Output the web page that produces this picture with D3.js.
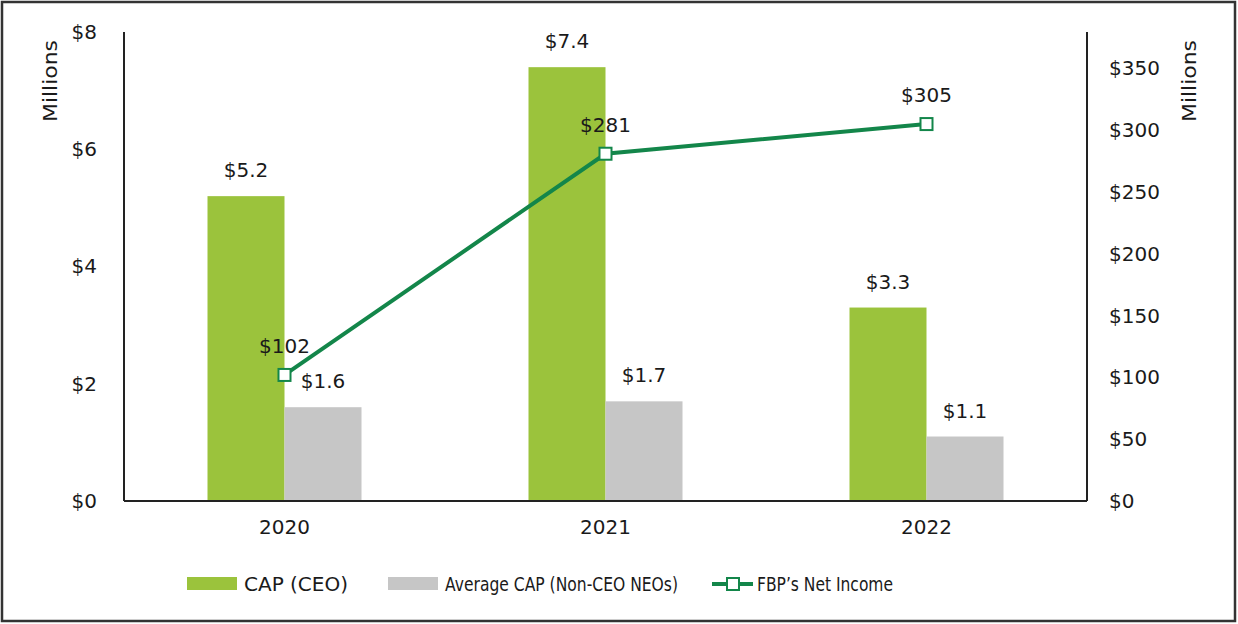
<!DOCTYPE html>
<html>
<head>
<meta charset="utf-8">
<script src="https://cdn.jsdelivr.net/npm/d3@7"></script>
<style>
  body { margin: 0; background: #fff; }
  svg text { font-family: "DejaVu Sans", sans-serif; fill: #1a1a1a; }
</style>
</head>
<body>
<div class="plot"></div>
<script>
// chart data
let years = ["2020", "2021", "2022"]
let capCeo = [5.2, 7.4, 3.3]
let capNeo = [1.6, 1.7, 1.1]
let netIncome = [102, 281, 305]
let leftTicks = [0, 2, 4, 6, 8]
let rightTicks = [0, 50, 100, 150, 200, 250, 300, 350]
let legendNames = ["CAP (CEO)", "Average CAP (Non-CEO NEOs)", "FBP\u2019s Net Income"]

let W = 1238, H = 624
let margin = {top: 32, right: 151, bottom: 123, left: 124}
let width = W - margin.left - margin.right,
    height = H - margin.top - margin.bottom
let fs = "20px"

let green = "#9bc33c", gray = "#c6c6c6", lineGreen = "#13864a"

let svg = d3.select(".plot").append("svg")
    .attr("width", W)
    .attr("height", H)

// outer frame
svg.append("rect")
    .attr("x", 2).attr("y", 2)
    .attr("width", W - 5).attr("height", H - 5)
    .attr("fill", "none")
    .attr("stroke", "#333")
    .attr("stroke-width", 2.5)

let g = svg.append("g")
    .attr("transform", "translate(" + margin.left + "," + margin.top + ")")

let x0 = d3.scaleBand().domain(years).range([0, width])
let x1 = d3.scaleBand().domain(["ceo", "neo"]).range([x0.bandwidth() / 2 - 77, x0.bandwidth() / 2 + 77])
let yL = d3.scaleLinear().domain([0, 8]).range([height, 0])
let yR = d3.scaleLinear().domain([0, 379.5]).range([height, 0])

// bars
let groups = g.selectAll(".year")
    .data(years)
    .enter().append("g")
    .attr("class", "year")
    .attr("transform", function(d) { return "translate(" + x0(d) + ",0)" })

groups.append("rect")
    .attr("x", x1("ceo"))
    .attr("width", x1.bandwidth())
    .attr("y", function(d, i) { return yL(capCeo[i]) })
    .attr("height", function(d, i) { return height - yL(capCeo[i]) })
    .attr("fill", green)

groups.append("rect")
    .attr("x", x1("neo"))
    .attr("width", x1.bandwidth())
    .attr("y", function(d, i) { return yL(capNeo[i]) })
    .attr("height", function(d, i) { return height - yL(capNeo[i]) })
    .attr("fill", gray)

groups.append("text")
    .attr("x", x1("ceo") + x1.bandwidth() / 2)
    .attr("y", function(d, i) { return yL(capCeo[i]) - 19 })
    .attr("text-anchor", "middle")
    .style("font-size", fs)
    .text(function(d, i) { return "$" + capCeo[i].toFixed(1) })

groups.append("text")
    .attr("x", x1("neo") + x1.bandwidth() / 2)
    .attr("y", function(d, i) { return yL(capNeo[i]) - 19 })
    .attr("text-anchor", "middle")
    .style("font-size", fs)
    .text(function(d, i) { return "$" + capNeo[i].toFixed(1) })

// axes lines
let axisColor = "#222"
g.append("line").attr("x1", 0).attr("x2", 0).attr("y1", 0).attr("y2", height)
    .attr("stroke", axisColor).attr("stroke-width", 2)
g.append("line").attr("x1", width).attr("x2", width).attr("y1", 0).attr("y2", height)
    .attr("stroke", axisColor).attr("stroke-width", 2)
g.append("line").attr("x1", 0).attr("x2", width).attr("y1", height).attr("y2", height)
    .attr("stroke", axisColor).attr("stroke-width", 2)

let yAxisL = d3.axisLeft(yL).tickValues(leftTicks).tickSize(0).tickPadding(27)
    .tickFormat(function(d) { return "$" + d })
let yAxisR = d3.axisRight(yR).tickValues(rightTicks).tickSize(0).tickPadding(22)
    .tickFormat(function(d) { return "$" + d })
let xAxis = d3.axisBottom(x0).tickSize(0).tickPadding(19)

function styleAxis(sel) {
  sel.select(".domain").remove()
  sel.selectAll("text").style("font-size", fs).attr("fill", "#1a1a1a")
    .style("font-family", "'DejaVu Sans', sans-serif")
}

g.append("g").call(yAxisL).call(styleAxis)
g.append("g").attr("transform", "translate(" + width + ",0)").call(yAxisR).call(styleAxis)
g.append("g").attr("transform", "translate(0," + height + ")").call(xAxis).call(styleAxis)

// axis titles
svg.append("text")
    .attr("transform", "translate(57,81) rotate(-90)")
    .attr("text-anchor", "middle")
    .attr("textLength", 82)
    .attr("lengthAdjust", "spacingAndGlyphs")
    .style("font-size", "19px")
    .text("Millions")
svg.append("text")
    .attr("transform", "translate(1196,81) rotate(-90)")
    .attr("text-anchor", "middle")
    .attr("textLength", 82)
    .attr("lengthAdjust", "spacingAndGlyphs")
    .style("font-size", "19px")
    .text("Millions")

// net income line
let cx = function(i) { return x0(years[i]) + x0.bandwidth() / 2 }
let line = d3.line()
    .x(function(d, i) { return cx(i) })
    .y(function(d) { return yR(d) })

g.append("path")
    .datum(netIncome)
    .attr("d", line)
    .attr("fill", "none")
    .attr("stroke", lineGreen)
    .attr("stroke-width", 4)

g.selectAll(".marker")
    .data(netIncome)
    .enter().append("rect")
    .attr("class", "marker")
    .attr("x", function(d, i) { return cx(i) - 6 })
    .attr("y", function(d) { return yR(d) - 6 })
    .attr("width", 12).attr("height", 12)
    .attr("fill", "#fff")
    .attr("stroke", lineGreen)
    .attr("stroke-width", 2)

g.selectAll(".nilabel")
    .data(netIncome)
    .enter().append("text")
    .attr("x", function(d, i) { return cx(i) })
    .attr("y", function(d) { return yR(d) - 22 })
    .attr("text-anchor", "middle")
    .style("font-size", fs)
    .text(function(d) { return "$" + d })

// legend
let legTextX = [244, 445, 757], legTextLen = [null, 233, 136]
let leg = svg.append("g").attr("transform", "translate(0,584)")
leg.append("rect").attr("x", 187).attr("y", -7).attr("width", 50).attr("height", 13).attr("fill", green)
leg.append("rect").attr("x", 388).attr("y", -7).attr("width", 50).attr("height", 13).attr("fill", gray)
leg.append("line").attr("x1", 712).attr("x2", 753).attr("y1", 0).attr("y2", 0)
    .attr("stroke", lineGreen).attr("stroke-width", 4)
leg.append("rect").attr("x", 727).attr("y", -6).attr("width", 12).attr("height", 12)
    .attr("fill", "#fff").attr("stroke", lineGreen).attr("stroke-width", 2)
leg.selectAll(".legtext")
    .data(legendNames)
    .enter().append("text")
    .attr("class", "legtext")
    .attr("x", function(d, i) { return legTextX[i] })
    .attr("y", 7)
    .attr("textLength", function(d, i) { return legTextLen[i] })
    .attr("lengthAdjust", "spacingAndGlyphs")
    .style("font-size", fs)
    .text(function(d) { return d })
</script>
</body>
</html>
